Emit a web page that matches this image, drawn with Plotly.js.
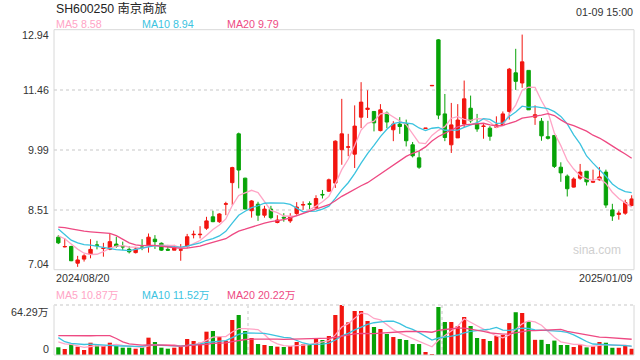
<!DOCTYPE html>
<html><head><meta charset="utf-8">
<script src="https://cdn.plot.ly/plotly-3.0.1.min.js"></script>
<style>html,body{margin:0;padding:0;background:#fff;}#chart{width:640px;height:360px;}</style>
</head><body><div id="chart"></div>
<script>
// ---- data ----
const openP  = [7.84,7.60,7.61,7.20,7.30,7.42,7.65,7.56,7.54,7.67,
                7.62,7.54,7.46,7.60,7.65,7.79,7.69,7.54,7.52,7.52,
                7.61,7.90,7.90,8.06,8.34,8.22,8.65,9.18,10.38,9.29,
                8.49,8.65,8.38,8.53,8.20,8.33,8.24,8.42,8.63,8.66,
                8.56,8.89,8.97,9.17,9.99,10.05,9.88,10.79,10.98,10.93,
                10.46,10.89,10.48,10.62,10.62,10.11,9.79,10.51,11.56,12.69,
                10.87,10.11,10.28,10.62,11.01,10.62,10.56,10.52,10.54,10.60,
                10.93,11.88,11.63,11.94,10.79,10.69,10.31,10.34,9.56,9.34,
                9.07,9.29,9.46,9.19,9.25,9.44,8.51,8.40,8.43,8.62];
const highP  = [7.89,7.81,7.63,7.38,7.42,7.79,7.75,7.70,7.93,7.85,
                7.73,7.62,7.59,7.79,7.93,7.89,7.71,7.65,7.65,7.67,
                7.92,8.00,8.11,8.34,8.49,8.43,8.71,9.57,10.41,9.30,
                8.75,8.71,8.61,8.61,8.38,8.43,8.43,8.70,8.72,8.72,
                8.87,9.00,9.28,10.22,11.24,10.38,11.08,11.65,11.45,10.93,
                11.11,10.93,10.69,10.79,10.73,10.18,9.95,10.52,11.57,12.71,
                11.36,11.14,11.11,11.69,11.32,10.87,10.62,10.57,10.81,10.93,
                12.00,12.47,12.82,11.94,11.08,10.77,10.70,10.34,9.68,9.38,
                9.31,9.64,9.46,9.50,9.56,9.50,8.66,8.49,8.76,8.87];
const lowP   = [7.67,7.59,7.25,7.11,7.24,7.32,7.54,7.36,7.52,7.58,
                7.52,7.44,7.44,7.52,7.46,7.55,7.50,7.50,7.52,7.26,
                7.57,7.81,7.81,8.02,8.21,8.19,8.38,8.63,9.04,8.53,
                8.32,8.24,8.32,8.28,8.18,8.22,8.19,8.39,8.51,8.51,
                8.54,8.79,8.95,9.05,9.62,9.83,9.54,10.52,10.77,10.44,
                10.44,10.52,10.20,10.38,10.07,9.80,9.52,10.51,11.56,10.74,
                10.20,9.91,10.28,10.54,10.65,10.43,10.26,10.21,10.52,10.58,
                10.73,11.46,11.51,10.97,10.60,10.21,10.24,9.54,9.20,8.84,
                9.06,9.25,9.11,9.17,9.23,8.56,8.24,8.27,8.39,8.60];
const closeP = [7.70,7.61,7.26,7.28,7.38,7.54,7.64,7.57,7.73,7.61,
                7.60,7.48,7.55,7.58,7.84,7.73,7.52,7.52,7.59,7.53,
                7.85,7.91,7.91,8.24,8.22,8.41,8.66,9.55,9.49,8.53,
                8.73,8.38,8.53,8.32,8.26,8.31,8.35,8.58,8.64,8.65,
                8.79,8.88,9.25,10.20,10.38,10.06,10.57,11.16,11.01,10.65,
                10.97,10.67,10.62,10.56,10.21,9.84,9.56,10.52,11.57,10.84,
                10.29,10.60,10.72,11.24,10.70,10.50,10.57,10.32,10.60,10.87,
                11.97,11.67,12.15,10.97,10.85,10.33,10.27,9.58,9.42,9.03,
                9.27,9.44,9.20,9.21,9.32,8.63,8.36,8.43,8.69,8.78];
// volume, in 万
const volumes = [9.9,7.7,14.1,10.7,6.4,15.8,12.9,11.6,15.8,11.6,
                 9.4,9.4,8.1,10.0,22.3,16.7,9.4,8.1,9.4,10.7,
                 20.6,18.0,15.8,30.0,30.9,23.6,18.4,45.0,51.4,30.9,
                 21.9,14.1,12.9,11.6,10.7,10.3,11.6,16.7,13.7,13.7,
                 20.6,19.3,24.4,51.4,64.29,42.0,56.6,56.6,43.7,36.0,
                 33.4,27.0,23.1,20.6,19.3,14.1,14.1,3.9,1.3,61.7,
                 42.4,42.4,37.3,48.9,37.3,21.9,20.6,18.0,24.4,25.7,
                 41.0,55.0,54.0,43.0,19.5,19.5,14.1,18.5,12.9,12.9,
                 10.3,12.9,9.8,11.1,16.7,15.8,9.3,9.3,12.0,8.0];
// sessions before the window, estimated from where the MA lines start
const priorCloses  = [7.85,7.88,7.90,7.86,7.84,7.89,7.92,7.90,8.69,9.56,
                      9.10,8.50,7.95,7.80,7.70,7.95,7.90,7.92,7.88];
const priorVolumes = [12,11,13,12,10,12,14,12,85,95,60,35,18,14,12,20,18,19,17];

const priceTickVals   = [12.94, 11.465, 9.99, 8.515, 7.04];
const priceTickLabels = ['12.94','11.46','9.99','8.51','7.04'];
const volTickVals   = [64.29, 0];
const volTickLabels = ['64.29万','0'];
const titleText = 'SH600250 南京商旅';
const timeText  = '01-09 15:00';
const startDate = '2024/08/20';
const endDate   = '2025/01/09';
const priceMALabels = ['MA5 8.58','MA10 8.94','MA20 9.79'];
const volMALabels   = ['MA5 10.87万','MA10 11.52万','MA20 20.22万'];
const maPeriods = [5,10,20];

// ---- drawing ----
const RED = '#f2150f', GREEN = '#07a307';
const MA_COLORS = ['#ffa5c6','#3cc3df','#ee4a83'];
const FONT = '"Liberation Sans", Arial, "Noto Sans CJK SC", sans-serif';
const idx = closeP.map((_, i) => i);

function movingAvg(series, prior, n) {
  const all = prior.concat(series);
  const off = prior.length;
  return series.map((_, i) => {
    let s = 0;
    for (let k = 0; k < n; k++) s += all[off + i - k];
    return s / n;
  });
}

const barColors = closeP.map((c, i) => c >= openP[i] ? RED : GREEN);

const traces = [];
traces.push({
  type: 'candlestick', x: idx, open: openP, high: highP, low: lowP, close: closeP,
  xaxis: 'x', yaxis: 'y', whiskerwidth: 0,
  increasing: {line: {color: RED, width: 1}, fillcolor: RED},
  decreasing: {line: {color: GREEN, width: 1}, fillcolor: GREEN},
  hoverinfo: 'skip'
});
maPeriods.forEach((n, k) => {
  traces.push({type: 'scatter', mode: 'lines', x: idx, y: movingAvg(closeP, priorCloses, n),
    xaxis: 'x', yaxis: 'y', line: {color: MA_COLORS[k], width: 1.3}, hoverinfo: 'skip'});
});
traces.push({type: 'bar', x: idx, y: volumes, xaxis: 'x2', yaxis: 'y2',
  marker: {color: barColors, line: {width: 0}}, hoverinfo: 'skip'});
maPeriods.forEach((n, k) => {
  traces.push({type: 'scatter', mode: 'lines', x: idx, y: movingAvg(volumes, priorVolumes, n),
    xaxis: 'x2', yaxis: 'y2', line: {color: MA_COLORS[k], width: 1.3}, hoverinfo: 'skip'});
});

const W = 640, H = 360;
const L = 54, R = 634;
const pTop = 29.7, pBot = 269.7, vTop = 305, vBot = 355;
const fx = p => p / W, fy = p => 1 - p / H;
const xr = [-0.67, 89.36];
const GRID = '#e3e3e3', BORDER = '#d8d8d8';
const SMALL = 10.7;

const annotations = [];
function txt(text, x, y, xanchor, size, color) {
  annotations.push({text, x: fx(x), y: fy(y), xref: 'paper', yref: 'paper',
    xanchor, yanchor: 'middle', showarrow: false,
    font: {family: FONT, size, color}});
}
txt(titleText, 54, 8.5, 'left', 12.3, '#222');
txt(timeText, 635, 11.5, 'right', SMALL, '#333');
const maX = [54, 139.5, 224.5];
priceMALabels.forEach((t, k) => txt(t, maX[k], 24, 'left', SMALL, MA_COLORS[k]));
volMALabels.forEach((t, k) => txt(t, maX[k], 295, 'left', SMALL, MA_COLORS[k]));
const pLabelY = [35.5, 89.7, 149.7, 209.7, 263.5];
priceTickLabels.forEach((t, k) => txt(t, 51, pLabelY[k], 'right', SMALL, '#333'));
const vLabelY = [311.5, 348.5];
volTickLabels.forEach((t, k) => txt(t, 51, vLabelY[k], 'right', SMALL, '#333'));
txt(startDate, 54, 277.5, 'left', SMALL, '#333');
txt(endDate, 635, 277.5, 'right', SMALL, '#333');
txt('sina.com', 623, 249.5, 'right', 12, '#cfcfcf');

const shapes = [
  {type: 'rect', xref: 'paper', yref: 'paper', x0: fx(L), x1: fx(R), y0: fy(pBot), y1: fy(pTop),
   line: {color: BORDER, width: 1}},
  {type: 'line', xref: 'paper', yref: 'paper', x0: fx(L), x1: fx(R), y0: fy(vBot), y1: fy(vBot), line: {color: BORDER, width: 1}},
  {type: 'line', xref: 'paper', yref: 'paper', x0: fx(L), x1: fx(L), y0: fy(vBot), y1: fy(vTop), line: {color: BORDER, width: 1}},
  {type: 'line', xref: 'paper', yref: 'paper', x0: fx(R), x1: fx(R), y0: fy(vBot), y1: fy(vTop), line: {color: BORDER, width: 1}},
  {type: 'line', xref: 'paper', yref: 'paper', x0: fx(L), x1: fx(R), y0: fy(vTop), y1: fy(vTop), line: {color: GRID, width: 2, dash: 'dot'}}
];

const layout = {
  width: W, height: H, margin: {l: 0, r: 0, t: 0, b: 0},
  paper_bgcolor: '#fff', plot_bgcolor: '#fff', showlegend: false, hovermode: false,
  bargap: 0.35, boxgap: 0.25,
  xaxis: {domain: [fx(L), fx(R)], range: xr, anchor: 'y', showgrid: false, zeroline: false,
          showticklabels: false, showline: false, ticks: '', rangeslider: {visible: false}, fixedrange: true},
  yaxis: {domain: [fy(pBot), fy(pTop)], range: [7.04, 12.94], anchor: 'x', tickvals: priceTickVals.slice(1, 4),
          showticklabels: false, gridcolor: GRID, griddash: 'dot', gridwidth: 2, zeroline: false, ticks: '', fixedrange: true},
  xaxis2: {domain: [fx(L), fx(R)], range: xr, anchor: 'y2', tickvals: [29.5, 59.5], showticklabels: false,
           showgrid: true, gridcolor: GRID, griddash: 'dot', gridwidth: 2, zeroline: false, ticks: '', fixedrange: true},
  yaxis2: {domain: [fy(vBot), fy(vTop)], range: [0, volTickVals[0]], anchor: 'x2', showgrid: false,
           showticklabels: false, zeroline: false, ticks: '', fixedrange: true},
  annotations, shapes
};

Plotly.newPlot('chart', traces, layout, {staticPlot: true, displayModeBar: false});
</script>
</body></html>
